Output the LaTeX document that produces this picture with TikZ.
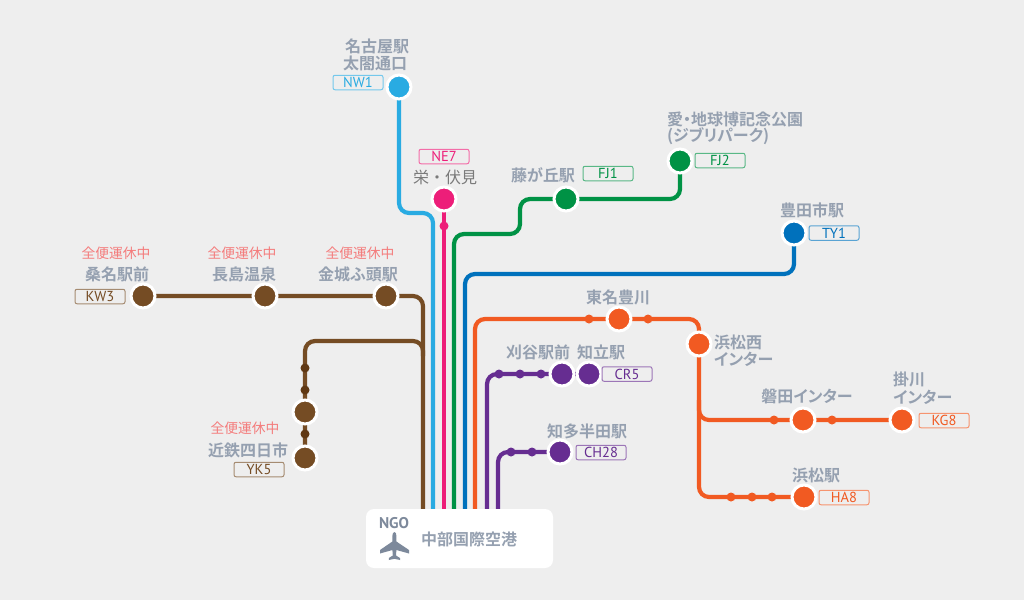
\documentclass[tikz,border=0pt]{standalone}
\usepackage{fontspec}
\setmainfont{Noto Sans CJK JP}
\newfontfamily\jpb[RawFeature={+palt}]{Noto Sans CJK JP Bold}
\newfontfamily\latintag{PT Sans}
\definecolor{bgc}{HTML}{EEEEEE}
\definecolor{cnw}{HTML}{29ABE2}
\definecolor{cne}{HTML}{ED1E79}
\definecolor{cfj}{HTML}{009245}
\definecolor{cty}{HTML}{0071BC}
\definecolor{cor}{HTML}{F15A22}
\definecolor{cpu}{HTML}{662D91}
\definecolor{cbr}{HTML}{754C24}
\definecolor{cbd}{HTML}{603813}
\definecolor{txt}{HTML}{95A0B0}
\definecolor{dtxt}{HTML}{7D899B}
\definecolor{stop}{HTML}{F47C7C}
\definecolor{sakae}{HTML}{7A7A7A}
\pgfdeclarelayer{routes}
\pgfdeclarelayer{base}
\pgfsetlayers{base,routes,main}
\tikzset{
 x=1pt,y=-1pt,
 route/.style={line width=4.2pt,rounded corners=10pt},
 stn/.style={circle,draw=white,line width=3pt,minimum size=24pt,inner sep=0pt,fill=#1},
 dotn/.style={circle,minimum size=9pt,inner sep=0pt,fill=#1},
 tagbox/.style={draw=#1!65!white,text=#1,line width=1pt,rounded corners=2pt,minimum width=50pt,minimum height=14.5pt,inner sep=0pt,font=\latintag\fontsize{14.5}{15}\selectfont},
 lab/.style={text=txt,inner sep=0pt,font=\jpb\fontsize{16}{17}\selectfont},
 lableft/.style={lab,anchor=west},
 halt/.style={text=stop,inner sep=0pt,font=\fontsize{13.8}{15}\selectfont},
}
\begin{document}
\begin{tikzpicture}
\useasboundingbox (0,0) rectangle (1024,600);
\begin{pgfonlayer}{base}
\fill[bgc] (0,0) rectangle (1024,600);
\end{pgfonlayer}

% airport
\node[fill=white,rounded corners=8pt,minimum width=187pt,minimum height=59pt,inner sep=0pt] (port) at (459.5,538.5) {};
\coordinate (pb) at (423,512);
\coordinate (pbb) at (423,356);
\coordinate (pnw) at (433,512);
\coordinate (pne) at (444,512);
\coordinate (pfj) at (454,512);
\coordinate (pty) at (465,512);
\coordinate (por) at (475,512);
\coordinate (pp1) at (487,512);
\coordinate (pp2) at (498,512);
\coordinate (nwb) at (433,213);
\coordinate (fja) at (520,234);
\coordinate (orc) at (699,319);
\coordinate (ord) at (699,497);
\coordinate (ore) at (699,400);
\coordinate (brc) at (305,341);

% stations
\node[stn=cnw] (nw1) at (399,87) {};
\node[stn=cne] (ne7) at (444,199) {};
\node[dotn=cne] (ned) at (444,226) {};
\node[stn=cfj] (fj1) at (566,199) {};
\node[stn=cfj] (fj2) at (680,161) {};
\node[stn=cty] (ty1) at (794,233) {};
\node[stn=cbr] (kw3) at (143,296) {};
\node[stn=cbr] (nag) at (265,296) {};
\node[stn=cbr] (kin) at (386,296) {};
\node[stn=cbr] (by1) at (305,412) {};
\node[stn=cbr] (yk5) at (305,458) {};
\node[dotn=cbd] (bd1) at (305,368) {};
\node[dotn=cbd] (bd2) at (305,390) {};
\node[dotn=cbd] (bd3) at (305,434) {};
\node[stn=cor] (toy) at (619,319) {};
\node[dotn=cor] (od1) at (589,319) {};
\node[dotn=cor] (od2) at (648,319) {};
\node[stn=cor] (hmw) at (699,344) {};
\node[stn=cor] (iwa) at (803,420) {};
\node[stn=cor] (kg8) at (902,420) {};
\node[dotn=cor] (od3) at (774,420) {};
\node[dotn=cor] (od4) at (832,420) {};
\node[stn=cor] (ha8) at (804,497) {};
\node[dotn=cor] (od5) at (731,497) {};
\node[dotn=cor] (od6) at (752,497) {};
\node[dotn=cor] (od7) at (772,497) {};
\node[stn=cpu] (kar) at (562,374) {};
\node[stn=cpu] (cr5) at (589,374) {};
\node[dotn=cpu] (pd1) at (499,374) {};
\node[dotn=cpu] (pd2) at (520,374) {};
\node[dotn=cpu] (pd3) at (541,374) {};
\node[stn=cpu] (ch28) at (560,452) {};
\node[dotn=cpu] (pd4) at (511,452) {};
\node[dotn=cpu] (pd5) at (532,452) {};

% routes
\begin{pgfonlayer}{routes}
\draw[route,cnw] (nw1.center) |- (nwb) -- (pnw);
\draw[route,cne] (ne7.center) -- (pne);
\draw[route,cfj] (fj2.center) |- (fj1.center);
\draw[route,cfj] (fj1.center) -| (fja) -- (454,234) -- (pfj);
\draw[route,cty] (ty1.center) |- (465,274) -- (pty);
\draw[route,cbr] (kw3.center) -- (kin.center) -| (pb);
\draw[route,cbr] (pbb) |- (brc) -- (yk5.center);
\draw[route,cor] (por) |- (orc) -- (ord) -- (ha8.center);
\draw[route,cor] (ore) |- (kg8.center);
\draw[route,cpu] (pp1) |- (cr5.center);
\draw[route,cpu] (pp2) |- (ch28.center);
\end{pgfonlayer}

% tags
\node[tagbox=cnw] (t1) at (358,82.5) {NW1};
\node[tagbox=cne] (t2) at (444,156.5) {NE7};
\node[tagbox=cfj] (t3) at (608,173.5) {FJ1};
\node[tagbox=cfj] (t4) at (720,160.5) {FJ2};
\node[tagbox=cty] (t5) at (834,233) {TY1};
\node[tagbox=cbr] (t6) at (100,296.5) {KW3};
\node[tagbox=cbr] (t7) at (259,469.5) {YK5};
\node[tagbox=cpu] (t8) at (627,374) {CR5};
\node[tagbox=cpu] (t9) at (601,452.5) {CH28};
\node[tagbox=cor] (t10) at (944,420.5) {KG8};
\node[tagbox=cor] (t11) at (844,497.5) {HA8};

% labels
\node[lab] (l1) at (377,46) {名古屋駅};
\node[lab] (l2) at (375,63) {太閤通口};
\node[inner sep=0pt,text=sakae,font=\fontsize{16}{17}\selectfont] (l3) at (445,177) {栄・伏見};
\node[lab] (l4) at (543,175) {藤が丘駅};
\node[lableft] (l5) at (667,119) {愛・地球博記念公園};
\node[lableft] (l6) at (667,136) {(ジブリパーク)};
\node[lab] (l7) at (812,210) {豊田市駅};
\node[halt] (s1) at (116,253) {全便運休中};
\node[halt] (s2) at (242,253) {全便運休中};
\node[halt] (s3) at (360,253) {全便運休中};
\node[halt] (s4) at (245,428) {全便運休中};
\node[lab] (l8) at (117,274) {桑名駅前};
\node[lab] (l9) at (244,274) {長島温泉};
\node[lab] (l10) at (358,274) {金城ふ頭駅};
\node[lab] (l11) at (248,450) {近鉄四日市};
\node[lab] (l12) at (538,352) {刈谷駅前};
\node[lab] (l13) at (601,352) {知立駅};
\node[lab] (l14) at (587,431) {知多半田駅};
\node[lab] (l15) at (618,297) {東名豊川};
\node[lableft] (l16) at (714,342) {浜松西};
\node[lableft] (l17) at (714,359) {インター};
\node[lab] (l18) at (807,396) {磐田インター};
\node[lableft] (l19) at (893,379) {掛川};
\node[lableft] (l20) at (893,397) {インター};
\node[lab] (l21) at (816,475) {浜松駅};
\node[lab] (l22) at (469,539) {中部国際空港};
\node[text=dtxt,inner sep=0pt,font=\latintag\bfseries\fontsize{15.5}{16}\selectfont] (ngo) at (394,523) {NGO};

% plane
\fill[dtxt] (394.4,532) .. controls (395.8,532) and (396.4,534) .. (396.4,536)
 -- (396.4,541.5) -- (409,550) -- (409,553.5) -- (396.4,550) -- (396,555.5) -- (400,558) -- (400,560) -- (394.4,558.8)
 -- (388.8,560) -- (388.8,558) -- (392.8,555.5) -- (392.4,550) -- (380,553.5) -- (380,550) -- (392.4,541.5) -- (392.4,536)
 .. controls (392.4,534) and (393,532) .. (394.4,532) -- cycle;
\end{tikzpicture}
\end{document}
